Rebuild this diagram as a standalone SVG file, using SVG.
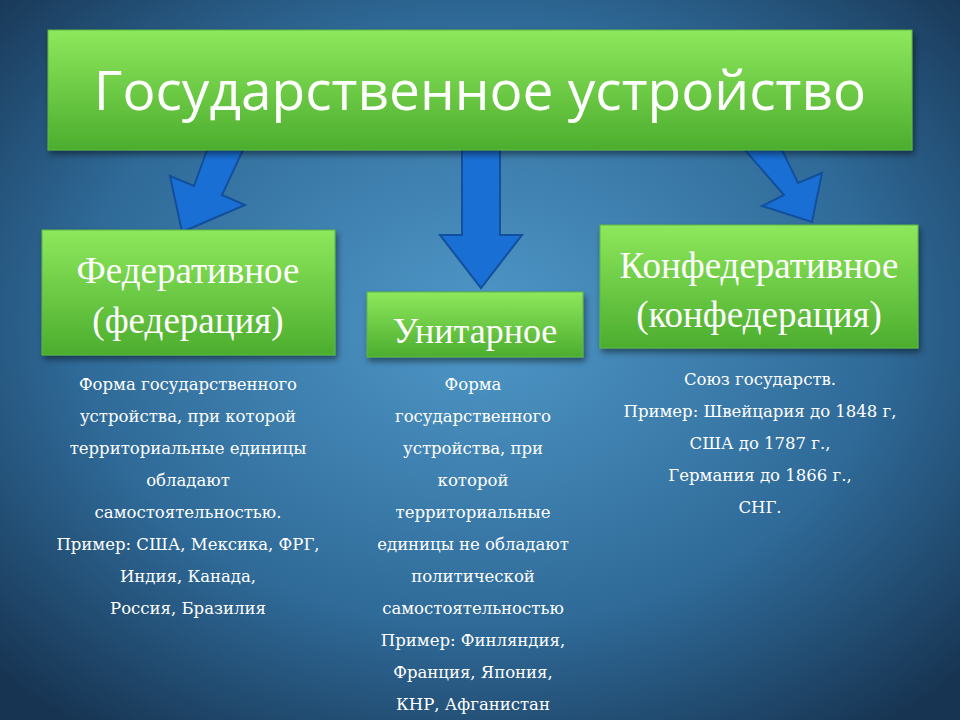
<svg xmlns="http://www.w3.org/2000/svg" width="960" height="720" viewBox="0 0 960 720">
<defs>
<radialGradient id="bg" cx="50%" cy="45%" r="70%">
<stop offset="0" stop-color="#4f98c8"/><stop offset="0.6" stop-color="#2f6a98"/><stop offset="1" stop-color="#173452"/>
</radialGradient>
<linearGradient id="gr" x1="0" y1="0" x2="0" y2="1">
<stop offset="0" stop-color="#8ee85c"/><stop offset="1" stop-color="#4cad2e"/>
</linearGradient>
<filter id="sh" x="-10%" y="-10%" width="130%" height="140%"><feDropShadow dx="2" dy="4" stdDeviation="3" flood-opacity="0.45"/></filter>
<style>
.box{fill:url(#gr);stroke:#5fb840;stroke-width:1;filter:url(#sh)}
.arr{fill:#1a6fd4;stroke:#124f9c;stroke-width:2}
.h{font-family:"Liberation Serif",serif;fill:#fff;text-anchor:middle}
.b{font-family:"DejaVu Serif",serif;fill:#fff;font-size:16.5px;text-anchor:middle}
</style>
</defs>
<rect width="960" height="720" fill="url(#bg)"/>
<g id="connectors">
<polygon class="arr" points="207,150 243,150 222,195 245,205 182,232 170,176 194,186"/>
<polygon class="arr" points="462,150 500,150 500,235 522,235 481,288 440,235 462,235"/>
<polygon class="arr" points="745,150 782,150 798,183 822,173 812,222 762,206 784,195"/>
</g>
<g id="title">
<rect class="box" x="48" y="30" width="864" height="120"/>
<text x="480" y="110" font-family="'Open Sans','Liberation Sans',sans-serif" font-size="55" fill="#fff" text-anchor="middle">Государственное устройство</text>
</g>
<g id="federal">
<rect class="box" x="42" y="230" width="293" height="125"/>
<text class="h" x="188" y="283" font-size="37">Федеративное</text>
<text class="h" x="188" y="333" font-size="37">(федерация)</text>
<text class="b" x="188" y="390">Форма государственного</text>
<text class="b" x="188" y="422">устройства, при которой</text>
<text class="b" x="188" y="454">территориальные единицы</text>
<text class="b" x="188" y="486">обладают</text>
<text class="b" x="188" y="518">самостоятельностью.</text>
<text class="b" x="188" y="550">Пример: США, Мексика, ФРГ,</text>
<text class="b" x="188" y="582">Индия, Канада,</text>
<text class="b" x="188" y="614">Россия, Бразилия</text>
</g>
<g id="unitary">
<rect class="box" x="367" y="292" width="216" height="65"/>
<text class="h" x="475" y="343" font-size="36">Унитарное</text>
<text class="b" x="473" y="390">Форма</text>
<text class="b" x="473" y="422">государственного</text>
<text class="b" x="473" y="454">устройства, при</text>
<text class="b" x="473" y="486">которой</text>
<text class="b" x="473" y="518">территориальные</text>
<text class="b" x="473" y="550">единицы не обладают</text>
<text class="b" x="473" y="582">политической</text>
<text class="b" x="473" y="614">самостоятельностью</text>
<text class="b" x="473" y="646">Пример: Финляндия,</text>
<text class="b" x="473" y="678">Франция, Япония,</text>
<text class="b" x="473" y="710">КНР, Афганистан</text>
</g>
<g id="confed">
<rect class="box" x="600" y="225" width="318" height="123"/>
<text class="h" x="759" y="278" font-size="37">Конфедеративное</text>
<text class="h" x="759" y="327" font-size="37">(конфедерация)</text>
<text class="b" x="760" y="385">Союз государств.</text>
<text class="b" x="760" y="417">Пример: Швейцария до 1848 г,</text>
<text class="b" x="760" y="449">США до 1787 г.,</text>
<text class="b" x="760" y="481">Германия до 1866 г.,</text>
<text class="b" x="760" y="513">СНГ.</text>
</g>
</svg>
